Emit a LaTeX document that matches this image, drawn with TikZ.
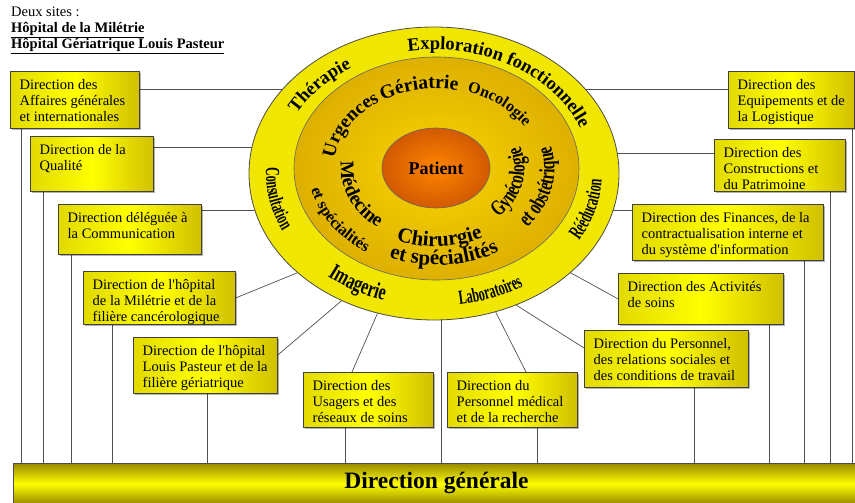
\documentclass[tikz,border=0pt]{standalone}
\usepackage{fontspec}
\setmainfont{Liberation Serif}[Ligatures=TeXOff]
\newfontfamily\narrowfont[FakeStretch=0.6]{Liberation Serif}
\newfontfamily\condfont[FakeStretch=0.7]{Liberation Serif}
\usetikzlibrary{shapes.geometric,decorations.text,shadows,backgrounds}

\definecolor{ringyellow}{HTML}{F0E600}
\definecolor{goldin}{HTML}{F8D400}
\definecolor{goldout}{HTML}{DDB000}
\definecolor{patin}{HTML}{FF8400}
\definecolor{patout}{HTML}{D25A00}
\definecolor{boxleft}{HTML}{E2DA00}
\definecolor{boxmid}{HTML}{FFFF00}
\definecolor{boxright}{HTML}{D0C000}
\definecolor{bardark}{HTML}{9A8C00}
\definecolor{barlight}{HTML}{FFFF00}
\definecolor{linkgray}{HTML}{505050}

\begin{document}
\begin{tikzpicture}[x=1pt,y=1pt,
  dirbox/.style={draw=black!75, line width=0.8pt, left color=boxleft, right color=boxright, middle color=boxmid,
    drop shadow={shadow xshift=1.5pt, shadow yshift=-1.5pt, fill=black, opacity=0.3}, inner sep=0pt, anchor=north west},
  dirtext/.style={anchor=north west, align=left, inner xsep=9.5pt, inner ysep=8pt, font=\fontsize{14.5}{16}\selectfont},
  link/.style={draw=linkgray, line width=0.7pt},
  ringlabel/.style={decorate, decoration={text along path, text align=center, text={#1}}}]
\useasboundingbox (0,0) rectangle (855,503);

% sites
\node[anchor=north west, align=left, inner sep=0pt, font=\fontsize{14.5}{16}\selectfont] (sites) at (11,496)
  {Deux sites :\\\textbf{\underline{Hôpital de la Milétrie}}\\\textbf{\underline{Hôpital Gériatrique Louis Pasteur}}};

% the three rings
\node[ellipse, draw=black!70, line width=0.8pt, fill=ringyellow, minimum width=370pt, minimum height=293pt, inner sep=0pt] (outer) at (434,329.5) {};
\node[ellipse, draw=black!60, line width=0.6pt, inner color=goldin, outer color=goldout, minimum width=285pt, minimum height=223pt, inner sep=0pt] (middle) at (436.5,334.5) {};
\node[ellipse, draw=black!60, line width=0.6pt, inner color=patin, outer color=patout, minimum width=108pt, minimum height=80pt, inner sep=0pt,
  font=\fontsize{18}{18}\selectfont\bfseries] (patient) at (436,335) {Patient};

% outer ring labels
\path[ringlabel={|\fontsize{18.5}{18.5}\selectfont\bfseries|Exploration fonctionnelle}] (outer.center) ++(120:157pt and 124pt) arc[start angle=120, end angle=-4, x radius=157pt, y radius=124pt];
\path[ringlabel={|\fontsize{18.5}{18.5}\selectfont\bfseries|Thérapie}] (outer.center) ++(172:157pt and 124pt) arc[start angle=172, end angle=104, x radius=157pt, y radius=124pt];
\path[ringlabel={|\narrowfont\fontsize{20}{20}\selectfont\bfseries|Consultation}] (outer.center) ++(161:168pt and 133pt) arc[start angle=161, end angle=221, x radius=168pt, y radius=133pt];
\path[ringlabel={|\condfont\fontsize{23}{23}\selectfont\bfseries|Imagerie}] (outer.center) ++(216:168pt and 133pt) arc[start angle=216, end angle=266, x radius=168pt, y radius=133pt];
\path[ringlabel={|\narrowfont\fontsize{20}{20}\selectfont\bfseries|Laboratoires}] (outer.center) ++(266:168pt and 133pt) arc[start angle=266, end angle=316, x radius=168pt, y radius=133pt];
\path[ringlabel={|\narrowfont\fontsize{20.5}{20.5}\selectfont\bfseries|Rééducation}] (outer.center) ++(318:168pt and 133pt) arc[start angle=318, end angle=370, x radius=168pt, y radius=133pt];

% middle ring labels
\path[ringlabel={|\fontsize{19.5}{19.5}\selectfont\bfseries|Gériatrie}] (middle.center) ++(128:103pt and 80pt) arc[start angle=128, end angle=72, x radius=103pt, y radius=80pt];
\path[ringlabel={|\fontsize{19}{19}\selectfont\bfseries|Urgences}] (middle.center) ++(178:103pt and 80pt) arc[start angle=178, end angle=119, x radius=103pt, y radius=80pt];
\path[ringlabel={|\fontsize{16}{16}\selectfont\bfseries|Oncologie}] (middle.center) ++(82:103pt and 80pt) arc[start angle=82, end angle=20, x radius=103pt, y radius=80pt];
\path[ringlabel={|\fontsize{19.5}{19.5}\selectfont\bfseries|Médecine}] (middle.center) ++(170:95.5pt and 75pt) arc[start angle=170, end angle=236, x radius=95.5pt, y radius=75pt];
\path[ringlabel={|\fontsize{16}{16}\selectfont\bfseries|et spécialités}] (middle.center) ++(178:128pt and 100pt) arc[start angle=178, end angle=248, x radius=128pt, y radius=100pt];
\path[ringlabel={|\fontsize{21}{21}\selectfont\bfseries|Chirurgie}] (middle.center) ++(242:100pt and 78pt) arc[start angle=242, end angle=302, x radius=100pt, y radius=78pt];
\path[ringlabel={|\fontsize{21}{21}\selectfont\bfseries|et spécialités}] (middle.center) ++(242:123pt and 96.5pt) arc[start angle=242, end angle=306, x radius=123pt, y radius=96.5pt];
\path[ringlabel={|\condfont\fontsize{22}{22}\selectfont\bfseries|Gynécologie}] (middle.center) ++(308:88pt and 69pt) arc[start angle=308, end angle=386, x radius=88pt, y radius=69pt];
\path[ringlabel={|\condfont\fontsize{22}{22}\selectfont\bfseries|et obstétrique}] (middle.center) ++(308:118pt and 92.5pt) arc[start angle=308, end angle=388, x radius=118pt, y radius=92.5pt];

% directions, left
\node[dirbox, minimum width=129pt, minimum height=57pt] (aff) at (10,432) {};
\node[dirtext] (aff-t) at (aff.north west) {Direction des\\Affaires générales\\et internationales};
\node[dirbox, minimum width=123pt, minimum height=55pt] (qual) at (30,367) {};
\node[dirtext] (qual-t) at (qual.north west) {Direction de la\\Qualité};
\node[dirbox, minimum width=143pt, minimum height=50pt] (comm) at (58,299) {};
\node[dirtext] (comm-t) at (comm.north west) {Direction déléguée à\\la Communication};
\node[dirbox, minimum width=152pt, minimum height=53pt] (mil) at (83,232) {};
\node[dirtext] (mil-t) at (mil.north west) {Direction de l'hôpital\\de la Milétrie et de la\\filière cancérologique};
\node[dirbox, minimum width=144pt, minimum height=56pt] (pas) at (133,166) {};
\node[dirtext] (pas-t) at (pas.north west) {Direction de l'hôpital\\Louis Pasteur et de la\\filière gériatrique};

% directions, bottom
\node[dirbox, minimum width=130pt, minimum height=55pt] (usa) at (303,131) {};
\node[dirtext] (usa-t) at (usa.north west) {Direction des\\Usagers et des\\réseaux de soins};
\node[dirbox, minimum width=130pt, minimum height=55pt] (pmed) at (447,131) {};
\node[dirtext] (pmed-t) at (pmed.north west) {Direction du\\Personnel médical\\et de la recherche};

% directions, right
\node[dirbox, minimum width=164pt, minimum height=57pt] (pers) at (584,173) {};
\node[dirtext] (pers-t) at (pers.north west) {Direction du Personnel,\\des relations sociales et\\des conditions de travail};
\node[dirbox, minimum width=165pt, minimum height=51pt] (act) at (618,230) {};
\node[dirtext] (act-t) at (act.north west) {Direction des Activités\\de soins};
\node[dirbox, minimum width=191pt, minimum height=56pt] (fin) at (632,299) {};
\node[dirtext] (fin-t) at (fin.north west) {Direction des Finances, de la\\contractualisation interne et\\du système d'information};
\node[dirbox, minimum width=131pt, minimum height=52pt] (cons) at (714,364) {};
\node[dirtext] (cons-t) at (cons.north west) {Direction des\\Constructions et\\du Patrimoine};
\node[dirbox, minimum width=126pt, minimum height=57pt] (equ) at (728,432) {};
\node[dirtext] (equ-t) at (equ.north west) {Direction des\\Equipements et de\\la Logistique};

% direction generale
\node[draw=black!70, line width=0.6pt, top color=bardark, bottom color=bardark, middle color=barlight,
  minimum width=850pt, minimum height=40pt, inner sep=0pt, anchor=south west] (gen) at (13,-1) {};
\node[font=\fontsize{23.5}{23.5}\selectfont\bfseries] (gen-t) at (436.5,20) {Direction générale};

% links
\begin{scope}[on background layer]
\foreach \b/\dy in {aff/18, qual/11, comm/6}{
  \coordinate (\b-r) at ([yshift=-\dy pt]\b.north east);
  \draw[link] (\b-r) -- (\b-r -| outer.center);
}
\foreach \b/\dy in {equ/18, cons/14, fin/6}{
  \coordinate (\b-l) at ([yshift=-\dy pt]\b.north west);
  \draw[link] (\b-l) -- (\b-l -| outer.center);
}
\coordinate (pas-r) at ([yshift=-18pt]pas.north east);
\coordinate (usa-u) at ([xshift=49pt]usa.north west);
\coordinate (pmed-u) at ([xshift=79pt]pmed.north west);
\coordinate (pers-l) at ([yshift=-18pt]pers.north west);
\coordinate (gen-c) at (441,39);
\draw[link] (mil.east) -- (outer.216);
\draw[link] (pas-r) -- (outer.234);
\draw[link] (usa-u) -- (outer.248);
\draw[link] (gen-c) -- (gen-c |- outer.center);
\draw[link] (pmed-u) -- (outer.294);
\draw[link] (pers-l) -- (outer.302);
\draw[link] (act.west) -- (outer.324);
\foreach \b/\dx in {aff/11, qual/13, comm/13, mil/29, pas/74, usa/42, pmed/90, pers/110, act/151, fin/172, cons/116, equ/124}{
  \coordinate (\b-d) at ([xshift=\dx pt]\b.south west);
  \draw[link] (\b-d) -- (\b-d |- gen.north);
}
\end{scope}
\end{tikzpicture}
\end{document}
